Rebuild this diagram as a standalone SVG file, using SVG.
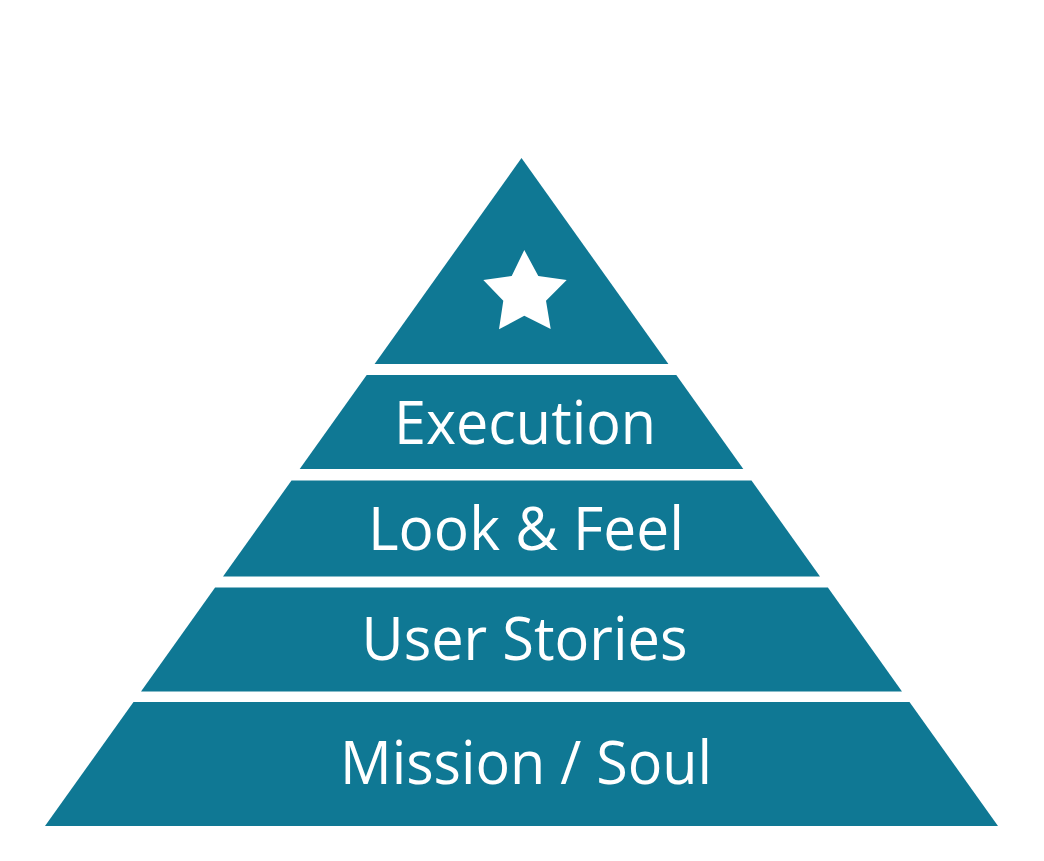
<svg xmlns="http://www.w3.org/2000/svg" width="1044" height="861" viewBox="0 0 1044 861">
<style>
.layer{fill:#0f7894}
.lbl{fill:#ffffff;font-family:"Open Sans","Noto Sans",sans-serif;font-size:60px;text-anchor:middle}
</style>
<rect width="1044" height="861" fill="#ffffff"/>
<g id="apex">
<polygon class="layer" points="521.5,158 668.4,364 374.6,364"/>
<polygon fill="#ffffff" points="524.3,250 538.3,276 566.7,280 546,300.7 550.7,329 524.3,315.7 499,329.3 503.3,300.7 483.3,280 511.7,276"/>
</g>
<g id="execution">
<polygon class="layer" points="366.7,375 676.3,375 743.3,469 299.7,469"/>
<text class="lbl" x="525" y="444" textLength="262" lengthAdjust="spacingAndGlyphs">Execution</text>
</g>
<g id="look-feel">
<polygon class="layer" points="291.5,480.5 751.5,480.5 820,576.5 223,576.5"/>
<text class="lbl" x="526" y="549.5" textLength="316" lengthAdjust="spacingAndGlyphs">Look &amp; Feel</text>
</g>
<g id="user-stories">
<polygon class="layer" points="215.1,587.5 827.9,587.5 902,691.5 141,691.5"/>
<text class="lbl" x="524.5" y="659.5" textLength="326" lengthAdjust="spacingAndGlyphs">User Stories</text>
</g>
<g id="mission-soul">
<polygon class="layer" points="133.5,702 909.5,702 998,826 45,826"/>
<text class="lbl" x="526" y="784" textLength="372" lengthAdjust="spacingAndGlyphs">Mission / Soul</text>
</g>
<g id="connectors"/>
</svg>
